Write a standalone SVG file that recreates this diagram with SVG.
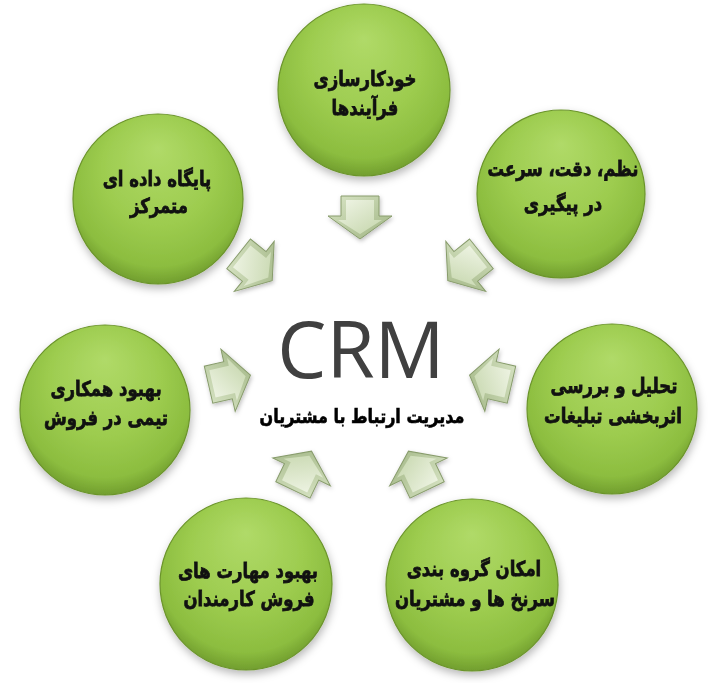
<svg xmlns="http://www.w3.org/2000/svg" width="725" height="683" viewBox="0 0 725 683">
<defs>
<radialGradient id="gBall" cx="0.5" cy="0.42" r="0.6" fx="0.5" fy="0.2">
<stop offset="0" stop-color="#b0da68"/>
<stop offset="0.55" stop-color="#9dcc4f"/>
<stop offset="0.85" stop-color="#8cbd3f"/>
<stop offset="1" stop-color="#6c982b"/>
</radialGradient>
<linearGradient id="gArrOut" x1="0" y1="0" x2="1" y2="1">
<stop offset="0" stop-color="#d9e5c6"/>
<stop offset="1" stop-color="#9fb482"/>
</linearGradient>
<linearGradient id="gArrIn" x1="0" y1="0" x2="0.8" y2="1">
<stop offset="0" stop-color="#f0f5e6"/>
<stop offset="1" stop-color="#c8d8b0"/>
</linearGradient>
<filter id="shadow" x="-20%" y="-20%" width="140%" height="150%">
<feDropShadow dx="1" dy="4" stdDeviation="4" flood-color="#000" flood-opacity="0.28"/>
</filter>
<filter id="ashadow" x="-30%" y="-30%" width="160%" height="160%">
<feDropShadow dx="1" dy="2" stdDeviation="2" flood-color="#000" flood-opacity="0.25"/>
</filter>
<g id="arrow">
<path d="M -19,-21 L 19,-21 L 19,-1 L 32,-1 L 0,22 L -32,-1 L -19,-1 Z" fill="url(#gArrOut)" stroke="#889c6c" stroke-width="1"/>
<path d="M -14,-17 L 14,-17 L 14,3 L 22,3 L 0,17 L -22,3 L -14,3 Z" fill="url(#gArrIn)"/>
</g>
</defs>
<style>
.ball{fill:url(#gBall);stroke:#6b942b;stroke-width:1.2;filter:url(#shadow)}
.lbl{font-family:"DejaVu Sans",sans-serif;font-weight:bold;font-size:16.5px;fill:#111;stroke:#111;stroke-width:0.6;text-anchor:middle}
.crm{font-family:"Open Sans","Liberation Sans",sans-serif;font-size:78px;fill:#404040;text-anchor:middle}
.sub{font-family:"DejaVu Sans",sans-serif;font-weight:bold;font-size:16px;fill:#000;stroke:#000;stroke-width:0.5;text-anchor:middle}
</style>
<rect width="725" height="683" fill="#ffffff"/>

<g id="connectors" filter="url(#ashadow)">
<use href="#arrow" transform="translate(360,217) rotate(0)"/>
<use href="#arrow" transform="translate(465,267) rotate(51.4)"/>
<use href="#arrow" transform="translate(491,380) rotate(102.9)"/>
<use href="#arrow" transform="translate(418,471) rotate(154.3)"/>
<use href="#arrow" transform="translate(302,471) rotate(205.7)"/>
<use href="#arrow" transform="translate(229,380) rotate(257.1)"/>
<use href="#arrow" transform="translate(255,267) rotate(-51.4)"/>
</g>

<g id="center">
<text class="crm" x="361" y="378">CRM</text>
<text class="sub" transform="translate(362,423) scale(1,1.2)">مدیریت ارتباط با مشتریان</text>
</g>

<g id="n-top">
<circle class="ball" cx="364" cy="90" r="86"/>
<text class="lbl" transform="translate(365,86) scale(1,1.25)">خودکارسازی</text>
<text class="lbl" transform="translate(365,115) scale(1,1.25)">فرآیندها</text>
</g>
<g id="n-topright">
<circle class="ball" cx="561" cy="194" r="84"/>
<text class="lbl" transform="translate(563,176) scale(1,1.25)">نظم، دقت، سرعت</text>
<text class="lbl" transform="translate(563,211) scale(1,1.25)">در پیگیری</text>
</g>
<g id="n-right">
<circle class="ball" cx="612" cy="409" r="85"/>
<text class="lbl" transform="translate(614,393) scale(1,1.25)">تحلیل و بررسی</text>
<text class="lbl" transform="translate(613,423) scale(1,1.25)">اثربخشی تبلیغات</text>
</g>
<g id="n-bottomright">
<circle class="ball" cx="472" cy="585" r="86"/>
<text class="lbl" transform="translate(474,576) scale(1,1.25)">امکان گروه بندی</text>
<text class="lbl" transform="translate(475,606) scale(1,1.25)">سرنخ ها و مشتریان</text>
</g>
<g id="n-bottomleft">
<circle class="ball" cx="246" cy="584" r="86"/>
<text class="lbl" transform="translate(248,578) scale(1,1.25)">بهبود مهارت های</text>
<text class="lbl" transform="translate(249,606) scale(1,1.25)">فروش کارمندان</text>
</g>
<g id="n-left">
<circle class="ball" cx="105" cy="410" r="85"/>
<text class="lbl" transform="translate(106,396) scale(1,1.25)">بهبود همکاری</text>
<text class="lbl" transform="translate(106,425) scale(1,1.25)">تیمی در فروش</text>
</g>
<g id="n-topleft">
<circle class="ball" cx="158" cy="199" r="85"/>
<text class="lbl" transform="translate(157,186) scale(1,1.25)">پایگاه داده ای</text>
<text class="lbl" transform="translate(159,213) scale(1,1.25)">متمرکز</text>
</g>
</svg>
